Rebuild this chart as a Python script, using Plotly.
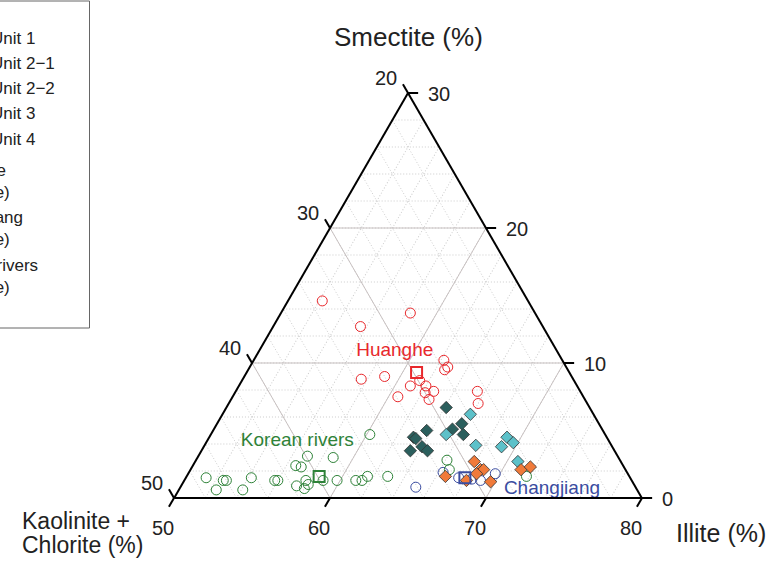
import plotly.graph_objects as go

# values: smectite (%) and illite (%); kaolinite + chlorite = rest
unit1_smec = [6.7, 5.5, 5.1, 4.7, 5.0, 4.5, 4.4, 3.8, 3.5, 3.5]
unit1_ill = [64.1, 65.7, 65.3, 66.2, 63.7, 63.1, 63.3, 64.0, 63.4, 64.5]
unit21_smec = [6.2, 4.7, 3.9, 4.5, 3.8, 4.1, 2.7]
unit21_ill = [65.9, 65.1, 67.4, 69.1, 69.1, 69.7, 70.7]
unit22_smec = [2.7, 2.1, 2.1, 1.8, 1.3, 1.6, 1.2, 2.1, 2.3]
unit22_ill = [67.9, 68.6, 68.8, 68.5, 68.1, 66.6, 69.7, 71.2, 71.7]

hh_smec = [14.6, 12.7, 13.7, 10.2, 9.7, 9.5, 8.8, 9.0, 8.3, 8.7, 8.3, 7.8, 7.9, 7.3, 7.5, 7.9, 7.0]
hh_ill = [52.2, 55.6, 58.3, 62.2, 62.7, 62.6, 57.6, 59.0, 61.0, 61.4, 62.0, 62.2, 62.7, 62.7, 60.6, 65.5, 66.0]
cj_smec = [1.9, 0.8, 1.3, 1.8, 1.5, 1.4]
cj_ill = [66.3, 65.1, 69.0, 69.7, 67.5, 68.4]
kr_smec = [1.5, 0.6, 1.3, 1.3, 0.6, 1.5, 1.3, 1.3, 2.4, 2.3, 3.1, 0.9, 1.3,
           1.0, 0.7, 1.3, 3.0, 1.3, 1.3, 1.3, 1.6, 1.6, 4.7, 2.8, 2.1, 1.6]
kr_ill = [51.3, 52.4, 52.5, 52.7, 54.1, 54.2, 55.8, 56.0, 56.6, 57.0, 57.0, 57.4, 57.8,
          58.1, 58.0, 58.9, 58.7, 59.8, 61.0, 61.4, 61.6, 62.9, 60.2, 66.1, 66.6, 71.8]

# averages (smectite, illite)
hh_avg = (9.3, 60.9)
cj_avg = (1.5, 67.9)
kr_avg = (1.6, 58.5)

major = [10, 20]
smec_ticks = [0, 10, 20, 30]
ill_ticks = [50, 60, 70, 80]
kc_ticks = [20, 30, 40, 50]

A_MIN, B_MIN, C_MIN, SPAN = 0, 20, 50, 30


def kc(s, i):
    return [100 - a - b for a, b in zip(s, i)]


def px_x(p):
    return (p - 174) / 468


def px_y(p):
    return (498 - p) / 405


def tern_paper(a, c):
    # ternary (smectite, illite) -> paper coords of the triangle that fills the domain
    return ((c - C_MIN) + (a - A_MIN) / 2) / SPAN, (a - A_MIN) / SPAN


FONT = "Liberation Sans, Arial, sans-serif"
fig = go.Figure()

# major grid lines (solid)
ga, gb, gc = [], [], []
for v in major:
    ga += [v, v, None]; gc += [50, 80 - v, None]; gb += [50 - v, 20, None]
for v in [60, 70]:
    ga += [0, 80 - v, None]; gc += [v, v, None]; gb += [100 - v, 20, None]
for v in [30, 40]:
    ga += [0, 50 - v, None]; gb += [v, v, None]; gc += [100 - v, 50, None]
fig.add_trace(go.Scatterternary(a=ga, b=gb, c=gc, mode='lines', showlegend=False,
                                line=dict(color='#c8c1c1', width=1), hoverinfo='skip'))

# river samples
red, blue, green = '#e8282c', '#3a4ca0', '#2e8238'
for s, i, col in [(hh_smec, hh_ill, red), (cj_smec, cj_ill, blue), (kr_smec, kr_ill, green)]:
    fig.add_trace(go.Scatterternary(a=s, c=i, b=kc(s, i), mode='markers', showlegend=False,
                                    hoverinfo='skip',
                                    marker=dict(symbol='circle-open', size=10, color=col,
                                                line=dict(width=1))))

# units
units = [('Unit 1', unit1_smec, unit1_ill, '#2b5f5d'),
         ('Unit 2\u22121', unit21_smec, unit21_ill, '#5cc1c9'),
         ('Unit 2\u22122', unit22_smec, unit22_ill, '#f07a3a'),
         ('Unit 3', [None], [None], '#8c8c8c'),
         ('Unit 4', [None], [None], '#d9d9d9')]
for name, s, i, col in units:
    b = [None] if s[0] is None else kc(s, i)
    fig.add_trace(go.Scatterternary(a=s, c=i, b=b, mode='markers', name=name, legend='legend',
                                    hoverinfo='skip',
                                    marker=dict(symbol='diamond', size=9.5, color=col,
                                                line=dict(color='#333', width=0.8))))

# averages
for name, (s, i), col in [('Huanghe<br>(average)', hh_avg, red),
                          ('Changjiang<br>(average)', cj_avg, blue),
                          ('Korean rivers<br>(average)', kr_avg, green)]:
    fig.add_trace(go.Scatterternary(a=[s], c=[i], b=[100 - s - i], mode='markers', name=name,
                                    legend='legend2', hoverinfo='skip',
                                    marker=dict(symbol='square-open', size=11, color=col,
                                                line=dict(width=2))))

# river labels
for txt, s, i, col in [('Huanghe', 10.9, 58.7, red), ('Korean rivers', 4.2, 55.8, green),
                       ('Changjiang', 0.67, 73.9, blue)]:
    fig.add_trace(go.Scatterternary(a=[s], c=[i], b=[100 - s - i], mode='text', text=[txt],
                                    textposition='middle center', showlegend=False,
                                    textfont=dict(family=FONT, size=19, color=col),
                                    hoverinfo='skip'))

# outward ticks (reference uses the clockwise convention) and their labels
L = 0.65
shapes, annots = [], []
tick_font = dict(family=FONT, size=20, color='#222')
for s in smec_ticks:
    x0, y0 = tern_paper(s, 80 - s)
    x1, y1 = tern_paper(s, 80 - s + L)
    shapes.append(dict(type='line', xref='paper', yref='paper', x0=x0, y0=y0, x1=x1, y1=y1))
    annots.append(dict(text=str(s), x=x0, y=y0, xanchor='left', yanchor='middle', xshift=18,
                       yshift=-1, font=tick_font))
for i in ill_ticks:
    x0, y0 = tern_paper(0, i)
    x1, y1 = tern_paper(-L, i)
    shapes.append(dict(type='line', xref='paper', yref='paper', x0=x0, y0=y0, x1=x1, y1=y1))
    annots.append(dict(text=str(i), x=x0, y=y0, xanchor='center', yanchor='middle', xshift=-11,
                       yshift=-30, font=tick_font))
for k in kc_ticks:
    x0, y0 = tern_paper(50 - k, 50)
    x1, y1 = tern_paper(50 - k + L, 50 - L)
    shapes.append(dict(type='line', xref='paper', yref='paper', x0=x0, y0=y0, x1=x1, y1=y1))
    annots.append(dict(text=str(k), x=x0, y=y0, xanchor='center', yanchor='middle',
                       xshift=-22.5, yshift=15.5, font=tick_font))
for sh in shapes:
    sh['line'] = dict(color='black', width=2)
for an in annots:
    an.update(xref='paper', yref='paper', showarrow=False)

title_font = dict(family=FONT, size=25, color='#222')
kc_font = dict(family=FONT, size=23, color='#222')
annots += [
    dict(text='Smectite (%)', x=px_x(408), y=px_y(37), font=dict(family=FONT, size=26, color='#222')),
    dict(text='Illite (%)', x=px_x(721), y=px_y(533), font=title_font),
    dict(text='Kaolinite +', x=px_x(20), y=px_y(521), xanchor='left', font=kc_font),
    dict(text='Chlorite (%)', x=px_x(20), y=px_y(545), xanchor='left', font=kc_font),
]
for an in annots[-4:]:
    an.setdefault('xanchor', 'center')
    an.update(xref='paper', yref='paper', showarrow=False, yanchor='middle')

# legend frame (partly off the page, as in the reference)
shapes.append(dict(type='rect', xref='paper', yref='paper', x0=px_x(-30), x1=px_x(89.5),
                   y0=px_y(328), y1=px_y(1), line=dict(color='#666', width=1)))

axis = dict(showticklabels=False, ticks='', linecolor='black', linewidth=2, title=dict(text=''),
            showgrid=True, dtick=2, gridcolor='#cccccc', griddash='1px,2px', gridwidth=1)
fig.update_layout(
    width=773, height=562,
    margin=dict(l=174, r=131, t=93, b=64, autoexpand=False),
    paper_bgcolor='white',
    ternary=dict(sum=100, bgcolor='white', domain=dict(x=[0, 1], y=[0, 1]),
                 aaxis=dict(min=A_MIN, **axis), baxis=dict(min=B_MIN, **axis),
                 caxis=dict(min=C_MIN, **axis)),
    legend=dict(x=px_x(-49), y=px_y(20), xanchor='left', yanchor='top',
                font=dict(family=FONT, size=17, color='#222'), bgcolor='rgba(0,0,0,0)'),
    legend2=dict(x=px_x(-103), y=px_y(152), xanchor='left', yanchor='top',
                 font=dict(family=FONT, size=17, color='#222'), bgcolor='rgba(0,0,0,0)'),
    shapes=shapes,
    annotations=annots,
)

fig.write_html("out.html", config={'displayModeBar': False},
               post_script="document.body.style.margin = '0';")
